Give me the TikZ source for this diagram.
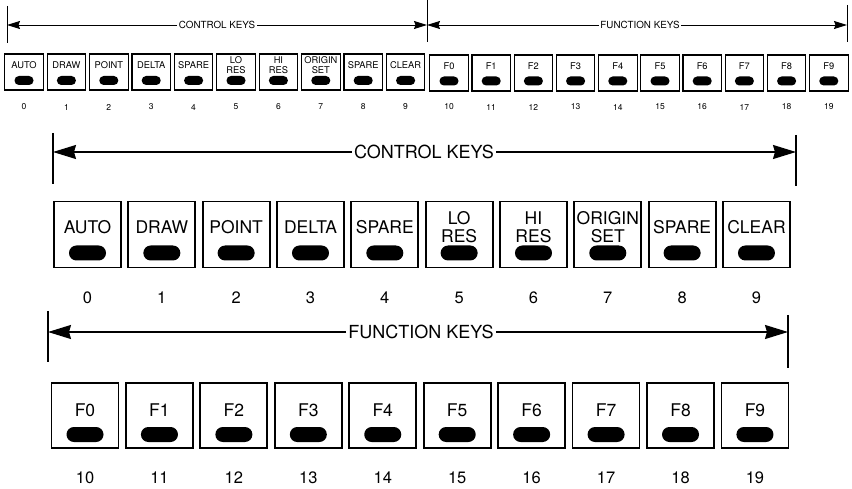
\documentclass[tikz,border=0pt]{standalone}
\usepackage{fontspec}
\setmainfont{TeX Gyre Heros}
\usetikzlibrary{arrows.meta,calc}
\begin{document}
\begin{tikzpicture}[x=1pt,y=-1pt,
  bigkey/.style={draw,line width=1.8pt,minimum width=67pt,minimum height=66pt,inner sep=0pt},
  bigbtn/.style={fill=black,minimum width=37pt,minimum height=15pt,rounded corners=7.4pt,inner sep=0pt},
  bigtxt/.style={font=\fontsize{17.5}{18}\selectfont,align=center,inner sep=0pt},
  bignum/.style={font=\fontsize{16.5}{18}\selectfont,inner sep=0pt},
  bighead/.style={font=\fontsize{18}{20}\selectfont,inner sep=2pt},
  bigbar/.style={line width=1.8pt},
  bigarrow/.style={line width=1.6pt,-{Stealth[length=23pt,width=14pt,inset=2pt]}},
  smkey/.style={draw,line width=1.1pt,minimum width=38.5pt,minimum height=36pt,inner sep=0pt},
  smbtn/.style={fill=black,minimum width=19pt,minimum height=9pt,rounded corners=4.4pt,inner sep=0pt},
  smtxt/.style={font=\fontsize{9.3}{10}\selectfont,align=center,inner sep=0pt},
  smnum/.style={font=\fontsize{8.5}{9}\selectfont,inner sep=0pt},
  smhead/.style={font=\fontsize{9.8}{11}\selectfont,inner sep=1.5pt},
  smbar/.style={line width=1pt},
  smarrow/.style={line width=0.9pt,-{Stealth[length=13pt,width=8pt,inset=1.5pt]}}
]
\useasboundingbox (0,0) rectangle (852,489);

% ---------- small top row ----------
\coordinate (sbl1) at (7,6);   \coordinate (sbl2) at (7,43);
\coordinate (sbm1) at (427,0); \coordinate (sbm2) at (427,42);
\coordinate (sbr1) at (847,5); \coordinate (sbr2) at (847,42);
\draw[smbar] (sbl1) -- (sbl2);
\draw[smbar] (sbm1) -- (sbm2);
\draw[smbar] (sbr1) -- (sbr2);
\coordinate (sctlL) at (7,25);  \coordinate (sctlR) at (427,25);
\coordinate (sfnL) at (427,25); \coordinate (sfnR) at (847,25);
\node[smhead] (sctl) at (217,25) {CONTROL KEYS};
\node[smhead] (sfn) at (640,25) {FUNCTION KEYS};
\draw[smarrow] (sctl.west) -- (sctlL);
\draw[smarrow] (sctl.east) -- (sctlR);
\draw[smarrow] (sfn.west) -- (sfnL);
\draw[smarrow] (sfn.east) -- (sfnR);

\foreach \lab [count=\i from 0] in {AUTO,DRAW,POINT,DELTA,SPARE,{LO\\RES},{HI\\RES},{ORIGIN\\SET},SPARE,CLEAR} {
  \node[smkey] (sck\i) at ({24+42.4*\i},72) {};
  \node[smtxt] (sckl\i) at ({24+42.4*\i},65) {\lab};
  \node[smbtn] (sckb\i) at ({24+42.4*\i},80.5) {};
  \node[smnum] (sckn\i) at ({24+42.4*\i},107) {\i};
}
\foreach \i in {0,...,9} {
  \node[smkey] (sfk\i) at ({449+42.2*\i},73) {};
  \node[smtxt] (sfkl\i) at ({449+42.2*\i},66) {F\i};
  \node[smbtn] (sfkb\i) at ({449+42.2*\i},81) {};
  \node[smnum] (sfkn\i) at ({449+42.2*\i},107) {\the\numexpr10+\i\relax};
}

% ---------- big control keys ----------
\coordinate (cbl1) at (53,133); \coordinate (cbl2) at (53,184);
\coordinate (cbr1) at (796,135); \coordinate (cbr2) at (796,186);
\draw[bigbar] (cbl1) -- (cbl2);
\draw[bigbar] (cbr1) -- (cbr2);
\coordinate (ctlL) at (53,152); \coordinate (ctlR) at (796,152);
\node[bighead] (ctl) at (424,152) {CONTROL KEYS};
\draw[bigarrow] (ctl.west) -- (ctlL);
\draw[bigarrow] (ctl.east) -- (ctlR);

\foreach \lab [count=\i from 0] in {AUTO,DRAW,POINT,DELTA,SPARE,{LO\\RES},{HI\\RES},{ORIGIN\\SET},SPARE,CLEAR} {
  \node[bigkey] (ck\i) at ({87.5+74.33*\i},234.5) {};
  \node[bigtxt] (ckl\i) at ({87.5+74.33*\i},227.5) {\lab};
  \node[bigbtn] (ckb\i) at ({87.5+74.33*\i},253) {};
  \node[bignum] (ckn\i) at ({87.5+74.33*\i},297.5) {\i};
}

% ---------- big function keys ----------
\coordinate (fbl1) at (48,311); \coordinate (fbl2) at (48,362);
\coordinate (fbr1) at (788,315); \coordinate (fbr2) at (788,368);
\draw[bigbar] (fbl1) -- (fbl2);
\draw[bigbar] (fbr1) -- (fbr2);
\coordinate (fnL) at (48,332); \coordinate (fnR) at (788,332);
\node[bighead] (fn) at (421,332) {FUNCTION KEYS};
\draw[bigarrow] (fn.west) -- (fnL);
\draw[bigarrow] (fn.east) -- (fnR);

\foreach \i in {0,...,9} {
  \node[bigkey,minimum height=65pt] (fk\i) at ({85+74.44*\i},415.5) {};
  \node[bigtxt] (fkl\i) at ({85+74.44*\i},410) {F\i};
  \node[bigbtn] (fkb\i) at ({85+74.44*\i},434.5) {};
  \node[bignum] (fkn\i) at ({85+74.44*\i},478) {\the\numexpr10+\i\relax};
}
\end{tikzpicture}
\end{document}
